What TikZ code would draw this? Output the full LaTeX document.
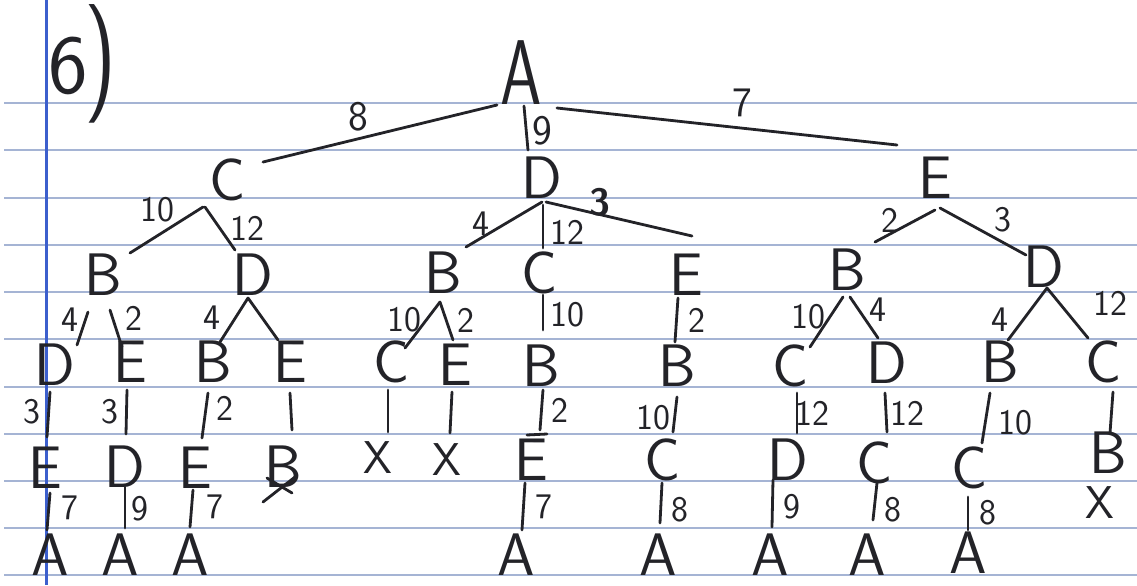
\documentclass[tikz,border=0pt]{standalone}
\usepackage{fontspec}
\definecolor{ink}{RGB}{35,35,40}
\definecolor{rulec}{RGB}{165,180,212}
\definecolor{marginc}{RGB}{60,95,205}
\tikzset{
  letter/.style={font=\sffamily\fontsize{30}{30}\selectfont, text=ink, inner sep=0pt},
  wlab/.style={font=\sffamily\fontsize{18}{18}\selectfont, text=ink, inner sep=0pt},
  wlabbig/.style={font=\sffamily\fontsize{21}{21}\selectfont, text=ink, inner sep=0pt},
  edge/.style={draw=ink, line width=1.4pt, line cap=round},
}
\newcommand{\ed}[6]{\draw[edge] ([shift={(#2,#3)}]#1.center) -- ([shift={(#5,#6)}]#4.center);}
\begin{document}
\begin{tikzpicture}[x=0.5pt,y=-0.5pt]
\useasboundingbox (0,0) rectangle (1137,585);
\fill[white] (0,0) rectangle (1137,585);
\foreach \yy in {103,150,198,245,292,339,387,434,481,528,575}
  \draw[rulec, line width=1pt] (4,\yy) -- (1137,\yy);
\draw[marginc, line width=1.5pt] (46,0) -- (46,585);

% title
\node[letter, font=\sffamily\fontsize{42}{42}\selectfont] (six) at (68,66) {6};
\node[letter, font=\sffamily\fontsize{44}{44}\selectfont] (par) at (101,64) {\scalebox{1}[1.35]{)}};

% level 0-1
\node[letter, font=\sffamily\fontsize{46}{46}\selectfont] (r) at (521,73) {\scalebox{0.72}[1]{A}};
\node[letter] (a) at (228,180) {C};
\node[letter] (b) at (542,178) {D};
\node[letter] (c) at (935,178) {E};
% level 2
\node[letter] (aa) at (103,275) {B};
\node[letter] (ab) at (253,275) {D};
\node[letter] (ba) at (443,273) {B};
\node[letter] (bb) at (540,273) {C};
\node[letter] (bc) at (686,275) {E};
\node[letter] (ca) at (847,270) {B};
\node[letter] (cb) at (1044,267) {D};
% level 3
\node[letter] (aaa) at (55,365) {D};
\node[letter] (aab) at (130,362) {E};
\node[letter] (aba) at (213,362) {B};
\node[letter] (abb) at (290,362) {E};
\node[letter] (baa) at (392,362) {C};
\node[letter] (bab) at (455,365) {E};
\node[letter] (bba) at (541,366) {B};
\node[letter] (bca) at (677,366) {B};
\node[letter] (caa) at (791,366) {C};
\node[letter] (cab) at (887,363) {D};
\node[letter] (cba) at (1000,362) {B};
\node[letter] (cbb) at (1104,362) {C};
% level 4
\node[letter] (aaaa) at (45,468) {E};
\node[letter] (aaba) at (125,467) {D};
\node[letter] (abaa) at (195,468) {E};
\node[letter] (abba) at (283,467) {B};
\node[letter, font=\sffamily\fontsize{23}{23}\selectfont] (baaa) at (378,458) {X};
\node[letter, font=\sffamily\fontsize{23}{23}\selectfont] (baba) at (447,460) {X};
\node[letter] (bbaa) at (531,460) {E};
\node[letter] (bcaa) at (663,460) {C};
\node[letter] (caaa) at (788,460) {D};
\node[letter] (caba) at (875,463) {C};
\node[letter] (cbaa) at (970,468) {C};
\node[letter] (cbba) at (1108,453) {B};
% level 5
\node[letter] (aaaaa) at (50,555) {A};
\node[letter] (aabaa) at (120,555) {A};
\node[letter] (abaaa) at (190,555) {A};
\node[letter] (bbaaa) at (516,555) {A};
\node[letter] (bcaaa) at (658,555) {A};
\node[letter] (caaaa) at (770,555) {A};
\node[letter] (cabaa) at (867,555) {A};
\node[letter] (cbaaa) at (968,553) {A};
\node[letter, font=\sffamily\fontsize{23}{23}\selectfont] (cbbaa) at (1100,503) {X};

% edges
\ed{r}{-24}{32}{a}{35}{-18}
\ed{r}{3}{33}{b}{-14}{-28}
\ed{r}{36}{35}{c}{-38}{-33}
\ed{a}{-25}{27}{aa}{27}{-22}
\ed{a}{-23}{27}{ab}{-18}{-25}
\ed{b}{0}{24}{ba}{23}{-26}
\ed{b}{1}{27}{bb}{3}{-25}
\ed{b}{4}{24}{bc}{6}{-39}
\ed{c}{0}{32}{ca}{28}{-28}
\ed{c}{5}{30}{cb}{-18}{-12}
\ed{aa}{-15}{37}{aaa}{22}{-20}
\ed{aa}{7}{35}{aab}{-8}{-15}
\ed{ab}{-5}{23}{aba}{7}{-20}
\ed{ab}{-5}{23}{abb}{-12}{-22}
\ed{ba}{-3}{29}{baa}{13}{-14}
\ed{ba}{-3}{29}{bab}{-2}{-25}
\ed{bb}{3}{22}{bba}{2}{-36}
\ed{bc}{-8}{23}{bca}{-2}{-24}
\ed{ca}{-4}{27}{caa}{19}{-19}
\ed{ca}{3}{27}{cab}{-9}{-25}
\ed{cb}{3}{21}{cba}{8}{-22}
\ed{cb}{3}{21}{cbb}{-16}{-24}
\ed{aaa}{-5}{27}{aaaa}{2}{-31}
\ed{aab}{-3}{28}{aaba}{1}{-33}
\ed{aba}{-5}{31}{abaa}{7}{-30}
\ed{abb}{0}{31}{abba}{9}{-37}
\ed{baa}{-4}{28}{baaa}{10}{-26}
\ed{bab}{-3}{27}{baba}{3}{-27}
\ed{bba}{2}{24}{bbaa}{9}{-30}
\ed{bca}{0}{31}{bcaa}{10}{-28}
\ed{caa}{6}{27}{caaa}{9}{-27}
\ed{cab}{-2}{30}{caba}{12}{-31}
\ed{cba}{-10}{31}{cbaa}{12}{-25}
\ed{cbb}{9}{30}{cbba}{2}{-20}
\ed{aaaa}{5}{25}{aaaaa}{-3}{-25}
\ed{aaba}{0}{20}{aabaa}{5}{-27}
\ed{abaa}{-2}{22}{abaaa}{0}{-28}
\ed{bbaa}{-6}{23}{bbaaa}{6}{-25}
\ed{bcaa}{-1}{23}{bcaaa}{2}{-32}
\ed{caaa}{-15}{20}{caaaa}{2}{-28}
\ed{caba}{2}{20}{cabaa}{6}{-35}
\ed{cbaa}{-2}{29}{cbaaa}{0}{-23}

% strike-out on B and bar over E
\draw[edge] ([shift={(-20,35)}]abba.center) -- ([shift={(12,10)}]abba.center);
\draw[edge] ([shift={(-16,11)}]abba.center) -- ([shift={(9,26)}]abba.center);
\draw[edge] ([shift={(-4,-25)}]bbaa.center) -- ([shift={(16,-26)}]bbaa.center);

% weights
\node[wlabbig] (w1) at (358,117) {8};
\node[wlabbig] (w2) at (542,131) {9};
\node[wlabbig] (w3) at (742,103) {7};
\node[wlab] (w4) at (157,210) {10};
\node[wlab] (w5) at (247,228) {12};
\node[wlab] (w6) at (481,224) {4};
\node[wlab] (w7) at (567,232) {12};
\node[wlab, font=\sffamily\bfseries\fontsize{19}{19}\selectfont] (w8) at (600,202) {3};
\node[wlab] (w9) at (890,220) {2};
\node[wlab] (w10) at (1003,220) {3};
\node[wlab] (w11) at (70,320) {4};
\node[wlab] (w12) at (134,318) {2};
\node[wlab] (w13) at (212,318) {4};
\node[wlab] (w14) at (404,320) {10};
\node[wlab] (w15) at (466,320) {2};
\node[wlab] (w16) at (567,315) {10};
\node[wlab] (w17) at (697,320) {2};
\node[wlab] (w18) at (808,317) {10};
\node[wlab] (w19) at (878,310) {4};
\node[wlab] (w20) at (1000,320) {4};
\node[wlab] (w21) at (1110,303) {12};
\node[wlab] (w22) at (32,412) {3};
\node[wlab] (w23) at (110,412) {3};
\node[wlab] (w24) at (225,408) {2};
\node[wlab] (w25) at (560,410) {2};
\node[wlab] (w26) at (653,418) {10};
\node[wlab] (w27) at (812,413) {12};
\node[wlab] (w28) at (907,413) {12};
\node[wlab] (w29) at (1015,423) {10};
\node[wlab] (w30) at (70,508) {7};
\node[wlab] (w31) at (140,509) {9};
\node[wlab] (w32) at (215,507) {7};
\node[wlab] (w33) at (544,507) {7};
\node[wlab] (w34) at (680,510) {8};
\node[wlab] (w35) at (792,507) {9};
\node[wlab] (w36) at (893,510) {8};
\node[wlab] (w37) at (988,513) {8};
\end{tikzpicture}
\end{document}
